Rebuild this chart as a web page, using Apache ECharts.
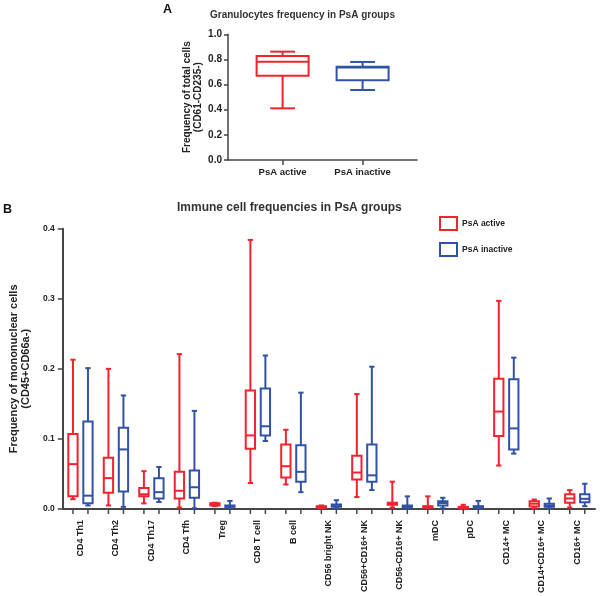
<!DOCTYPE html>
<html>
<head>
<meta charset="UTF-8">
<title>PsA groups</title>
<script src="https://cdn.jsdelivr.net/npm/echarts@6/dist/echarts.min.js"></script>
<style>
  html, body { margin: 0; padding: 0; background: #fff; }
  #main { width: 600px; height: 596px; }
</style>
</head>
<body>
<div id="main"></div>
<script>
  // panel A: granulocytes, [min, Q1, median, Q3, max]
  var groupNames = ['PsA active', 'PsA inactive'];
  var granActive = [0.411, 0.671, 0.782, 0.827, 0.862];
  var granInactive = [0.557, 0.634, 0.735, 0.742, 0.780];

  // panel B: immune cells, [min, Q1, median, Q3, max]
  var cellTypes = ['CD4 Th1', 'CD4 Th2', 'CD4 Th17', 'CD4 Tfh', 'Treg', 'CD8 T cell', 'B cell',
    'CD56 bright NK', 'CD56+CD16+ NK', 'CD56-CD16+ NK', 'mDC', 'pDC', 'CD14+ MC', 'CD14+CD16+ MC', 'CD16+ MC'];
  var activeStats = [
    [0.014, 0.018, 0.064, 0.107, 0.213],
    [0.005, 0.023, 0.044, 0.073, 0.200],
    [0.008, 0.018, 0.021, 0.030, 0.054],
    [0.002, 0.015, 0.026, 0.053, 0.221],
    [0.004, 0.005, 0.006, 0.008, 0.009],
    [0.037, 0.086, 0.105, 0.169, 0.384],
    [0.035, 0.045, 0.061, 0.092, 0.113],
    [0.001, 0.002, 0.003, 0.004, 0.005],
    [0.017, 0.042, 0.052, 0.076, 0.164],
    [0.002, 0.006, 0.008, 0.009, 0.039],
    [0.001, 0.002, 0.003, 0.004, 0.018],
    [0.0005, 0.001, 0.002, 0.003, 0.006],
    [0.062, 0.104, 0.139, 0.186, 0.297],
    [0.001, 0.0035, 0.0075, 0.011, 0.0135],
    [0.002, 0.009, 0.015, 0.021, 0.027]
  ];
  var inactiveStats = [
    [0.005, 0.008, 0.019, 0.125, 0.201],
    [0.003, 0.025, 0.085, 0.116, 0.162],
    [0.010, 0.015, 0.024, 0.044, 0.060],
    [0.001, 0.016, 0.031, 0.055, 0.140],
    [0.001, 0.003, 0.004, 0.005, 0.0115],
    [0.097, 0.105, 0.118, 0.172, 0.219],
    [0.024, 0.039, 0.053, 0.091, 0.166],
    [0.001, 0.003, 0.005, 0.0065, 0.0125],
    [0.027, 0.039, 0.048, 0.092, 0.203],
    [0.0005, 0.002, 0.003, 0.005, 0.018],
    [0.001, 0.005, 0.0085, 0.011, 0.016],
    [0.0005, 0.002, 0.003, 0.004, 0.0115],
    [0.079, 0.085, 0.115, 0.185, 0.216],
    [0.001, 0.003, 0.005, 0.0075, 0.015],
    [0.004, 0.0095, 0.0145, 0.021, 0.036]
  ];

  var RED = '#f2222e';
  var BLUE = '#3152a6';
  var AXIS = '#464646';
  var FONT = 'Liberation Sans';

  // custom box: shift / widths are fractions of the category band
  function boxRenderer(shift, boxFrac, capFrac, color, withTick) {
    return function (params, api) {
      var cat = api.value(0);
      var band = api.size([1, 0])[0];
      var base = api.coord([cat, 0]);
      var x = base[0] + shift * band;
      var ys = [1, 2, 3, 4, 5].map(function (i) { return api.coord([cat, api.value(i)])[1]; });
      var bw = boxFrac * band, cw = capFrac * band;
      var st = { stroke: color, lineWidth: 2, fill: null };
      var kids = [
        { type: 'line', shape: { x1: x, y1: ys[0], x2: x, y2: ys[1] }, style: st },
        { type: 'line', shape: { x1: x, y1: ys[3], x2: x, y2: ys[4] }, style: st },
        { type: 'line', shape: { x1: x - cw / 2, y1: ys[0], x2: x + cw / 2, y2: ys[0] }, style: st },
        { type: 'line', shape: { x1: x - cw / 2, y1: ys[4], x2: x + cw / 2, y2: ys[4] }, style: st },
        { type: 'rect', shape: { x: x - bw / 2, y: ys[3], width: bw, height: ys[1] - ys[3] },
          style: { stroke: color, lineWidth: 2, fill: '#fff' } },
        { type: 'line', shape: { x1: x - bw / 2, y1: ys[2], x2: x + bw / 2, y2: ys[2] }, style: st }
      ];
      if (withTick) {
        kids.push({ type: 'line', shape: { x1: x, y1: base[1], x2: x, y2: base[1] + 5 },
          style: { stroke: AXIS, lineWidth: 1.5 } });
      }
      return { type: 'group', children: kids };
    };
  }

  function rows(stats) {
    return stats.map(function (s, i) { return [i].concat(s); });
  }

  var lbl = { fontFamily: FONT, fontWeight: 'bold', color: '#222' };
  var line = { show: true, lineStyle: { color: AXIS, width: 1.5 } };
  var tick = { show: true, length: 4, lineStyle: { color: AXIS, width: 1.5 } };

  var myChart = echarts.init(document.getElementById('main'));

  var option = {
    animation: false,
    backgroundColor: '#fff',
    title: [
      { text: 'A', left: 163, top: 3, padding: 0,
        textStyle: { fontFamily: FONT, fontSize: 12.5, fontWeight: 'bold', color: '#111' } },
      { text: 'Granulocytes frequency in PsA groups', left: 210, top: 10, padding: 0,
        textStyle: { fontFamily: FONT, fontSize: 10, fontWeight: 'bold', color: '#333' } },
      { text: 'B', left: 3, top: 203, padding: 0,
        textStyle: { fontFamily: FONT, fontSize: 12.5, fontWeight: 'bold', color: '#111' } },
      { text: 'Immune cell frequencies in PsA groups', left: 177, top: 202, padding: 0,
        textStyle: { fontFamily: FONT, fontSize: 12, fontWeight: 'bold', color: '#333' } }
    ],
    legend: {
      orient: 'vertical', left: 439, top: 216, padding: 0, itemWidth: 17, itemHeight: 13, itemGap: 11,
      textStyle: { fontFamily: FONT, fontSize: 8.5, fontWeight: 'bold', color: '#222' },
      data: [
        { name: 'PsA active', icon: 'rect', itemStyle: { color: '#fff', borderColor: RED, borderWidth: 2 } },
        { name: 'PsA inactive', icon: 'rect', itemStyle: { color: '#fff', borderColor: BLUE, borderWidth: 2 } }
      ]
    },
    grid: [
      { left: 228, top: 34.3, width: 189, height: 125.7 },
      { left: 242.6, top: 34.3, width: 160, height: 125.7 },
      { left: 62, top: 228.7, width: 533, height: 281 }
    ],
    xAxis: [
      { gridIndex: 0, type: 'value', min: 0, max: 1, axisLine: line,
        axisTick: { show: false }, axisLabel: { show: false }, splitLine: { show: false } },
      { gridIndex: 1, type: 'category', data: groupNames, axisLine: { show: false },
        axisTick: { show: true, alignWithLabel: true, length: 5, lineStyle: { color: AXIS, width: 1.5 } },
        axisLabel: Object.assign({ fontSize: 9.5, margin: 7 }, lbl) },
      { gridIndex: 2, type: 'category', data: cellTypes,
        axisLine: { show: true, lineStyle: { color: AXIS, width: 2 } },
        axisTick: { show: false },
        axisLabel: Object.assign({ fontSize: 9, rotate: 90, margin: 11, interval: 0 }, lbl) }
    ],
    yAxis: [
      { gridIndex: 0, type: 'value', min: 0, max: 1, interval: 0.2,
        name: 'Frequency of total cells\n(CD61-CD235-)', nameLocation: 'middle', nameGap: 23,
        nameTextStyle: Object.assign({ fontSize: 10, lineHeight: 11 }, lbl),
        axisLine: line, axisTick: tick,
        axisLabel: Object.assign({ fontSize: 10, margin: 6, formatter: function (v) { return v.toFixed(1); } }, lbl),
        splitLine: { show: false } },
      { gridIndex: 1, type: 'value', min: 0, max: 1, show: false, splitLine: { show: false } },
      { gridIndex: 2, type: 'value', min: 0, max: 0.4, interval: 0.1,
        name: 'Frequency of mononuclear cells\n(CD45+CD66a-)', nameLocation: 'middle', nameGap: 18,
        nameTextStyle: Object.assign({ fontSize: 11, lineHeight: 12 }, lbl),
        axisLine: { show: true, lineStyle: { color: AXIS, width: 2 } },
        axisTick: { show: true, length: 5, lineStyle: { color: AXIS, width: 1.5 } },
        axisLabel: Object.assign({ fontSize: 8.5, margin: 8, formatter: function (v) { return v.toFixed(1); } }, lbl),
        splitLine: { show: false } }
    ],
    series: [
      { name: 'PsA active', type: 'custom', xAxisIndex: 1, yAxisIndex: 1, itemStyle: { color: RED },
        renderItem: boxRenderer(0, 0.65, 0.31, RED, false),
        encode: { x: 0, y: [1, 2, 3, 4, 5] }, data: [[0].concat(granActive)] },
      { name: 'PsA inactive', type: 'custom', xAxisIndex: 1, yAxisIndex: 1, itemStyle: { color: BLUE },
        renderItem: boxRenderer(0, 0.65, 0.31, BLUE, false),
        encode: { x: 0, y: [1, 2, 3, 4, 5] }, data: [[1].concat(granInactive)] },
      { name: 'PsA active', type: 'custom', xAxisIndex: 2, yAxisIndex: 2, itemStyle: { color: RED },
        renderItem: boxRenderer(-0.2115, 0.262, 0.15, RED, true),
        encode: { x: 0, y: [1, 2, 3, 4, 5] }, data: rows(activeStats) },
      { name: 'PsA inactive', type: 'custom', xAxisIndex: 2, yAxisIndex: 2, itemStyle: { color: BLUE },
        renderItem: boxRenderer(0.2115, 0.262, 0.15, BLUE, true),
        encode: { x: 0, y: [1, 2, 3, 4, 5] }, data: rows(inactiveStats) }
    ]
  };

  myChart.setOption(option);
</script>
</body>
</html>
